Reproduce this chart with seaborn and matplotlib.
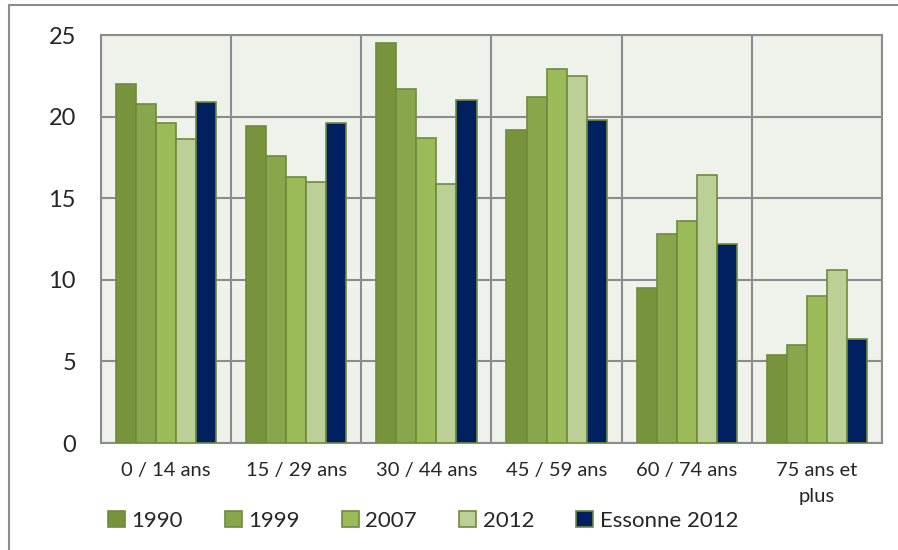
import matplotlib
matplotlib.use("Agg")
import matplotlib.pyplot as plt
import seaborn as sns
import pandas as pd
import numpy as np

# data
age_groups = ["0 / 14 ans", "15 / 29 ans", "30 / 44 ans", "45 / 59 ans", "60 / 74 ans", "75 ans et\nplus"]
series_names = ["1990", "1999", "2007", "2012", "Essonne 2012"]
v1990 = [22.0, 19.4, 24.5, 19.2, 9.5, 5.4]
v1999 = [20.8, 17.6, 21.7, 21.2, 12.8, 6.0]
v2007 = [19.6, 16.3, 18.7, 22.9, 13.6, 9.0]
v2012 = [18.6, 16.0, 15.9, 22.5, 16.4, 10.6]
essonne2012 = [20.9, 19.6, 21.0, 19.8, 12.2, 6.4]

colors = ["#77933C", "#8AA64D", "#9BBB59", "#BBCF96", "#002060"]

rows = []
for name, vals in zip(series_names, [v1990, v1999, v2007, v2012, essonne2012]):
    for grp, v in zip(age_groups, vals):
        rows.append({"groupe": grp, "serie": name, "valeur": v})
df = pd.DataFrame(rows)

sns.set_theme(style="white")
plt.rcParams["font.family"] = ["Lato", "DejaVu Sans"]

fig = plt.figure(figsize=(8.98, 5.5), dpi=100)
ax = fig.add_axes([101 / 898, 1 - 443 / 550, 781 / 898, 408 / 550])
ax.set_facecolor("#EFF2EA")

sns.barplot(data=df, x="groupe", y="valeur", hue="serie", order=age_groups,
            hue_order=series_names, palette=colors, width=0.77, saturation=1,
            edgecolor="#6F8A3C", linewidth=1.2, ax=ax, zorder=3)

ax.set_ylim(0, 25)
ax.set_xlim(-0.5, len(age_groups) - 0.5)
ax.set_yticks([0, 5, 10, 15, 20, 25])
ax.set_xticks(np.arange(len(age_groups)))
ax.set_xticklabels(age_groups, linespacing=1.6)
ax.set_xticks(np.arange(-0.5, len(age_groups)), minor=True)
ax.tick_params(axis="x", which="major", length=0, pad=14, labelsize=14.5)
ax.tick_params(axis="x", which="minor", length=6, color="#8C8C8C", width=1.5)
ax.tick_params(axis="y", length=6, color="#8C8C8C", width=1.5, labelsize=17, pad=12)
ax.grid(False)
ax.yaxis.grid(True, color="#8C8C8C", linewidth=1.5, zorder=1)
ax.xaxis.grid(True, which="minor", color="#8C8C8C", linewidth=1.5, zorder=1)
ax.set_axisbelow(True)
for s in ax.spines.values():
    s.set_color("#8C8C8C")
    s.set_linewidth(1.5)
ax.set_xlabel("")
ax.set_ylabel("")

handles, labels = ax.get_legend_handles_labels()
ax.legend_.remove()
fig.legend(handles, labels, loc="center left", bbox_to_anchor=(108 / 898, 1 - 521 / 550),
           ncol=5, frameon=False, fontsize=16, handlelength=0.75, handleheight=0.75,
           handletextpad=0.3, columnspacing=1.9, borderaxespad=0, borderpad=0)

# outer frame of the original chart
fig.add_artist(plt.Line2D([8.5 / 898, 8.5 / 898], [0, 1 - 5 / 550], color="#8C8C8C", lw=1.5))
fig.add_artist(plt.Line2D([8.5 / 898, 1], [1 - 5 / 550, 1 - 5 / 550], color="#8C8C8C", lw=1.5))

fig.savefig("out.png", dpi=100)
